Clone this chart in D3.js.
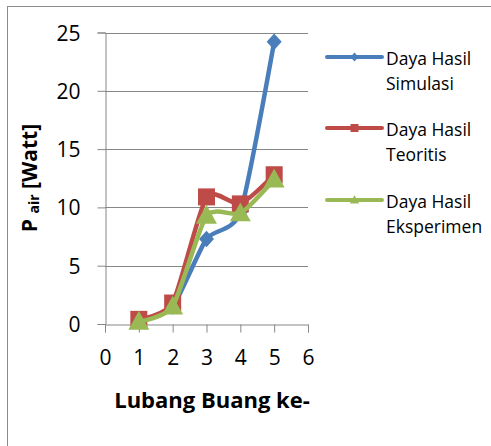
<!DOCTYPE html>
<html><head><meta charset="utf-8">
<script src="https://cdn.jsdelivr.net/npm/d3@7"></script>
<style>body{margin:0;background:#fff;} text{font-family:"Open Sans",sans-serif;}</style>
</head><body>
<svg id="c" width="491" height="446"></svg>
<script>
const xValues = [1, 2, 3, 4, 5];
const simulasi = [0.3, 1.5, 7.3, 9.6, 24.2];
const teoritis = [0.4, 1.8, 10.9, 10.3, 12.8];
const eksperimen = [0.2, 1.5, 9.3, 9.5, 12.4];
const seriesNames = ["Daya Hasil Simulasi", "Daya Hasil Teoritis", "Daya Hasil Eksperimen"];
const xTicks = [0, 1, 2, 3, 4, 5, 6];
const yTicks = [0, 5, 10, 15, 20, 25];

const svg = d3.select("#c");
svg.append("rect").attr("x", 7.5).attr("y", 6.5).attr("width", 490).attr("height", 450)
  .attr("fill", "#fff").attr("stroke", "#8c8c8c").attr("stroke-width", 1);

const x = d3.scaleLinear().domain([0, 6]).range([105, 308]);
const y = d3.scaleLinear().domain([0, 25]).range([324, 32.5]);
const grid = "#878787";

// gridlines
svg.append("g").selectAll("line").data(yTicks.filter(d => d > 0)).join("line")
  .attr("x1", x(0)).attr("x2", x(6)).attr("y1", d => Math.round(y(d)) + 0.5).attr("y2", d => Math.round(y(d)) + 0.5)
  .attr("stroke", grid).attr("stroke-width", 1);

// axes
const yAxis = svg.append("g").attr("transform", `translate(${x(0) + 0.5},0)`)
  .call(d3.axisLeft(y).tickValues(yTicks).tickSize(8).tickPadding(17).tickFormat(d3.format("d")));
const xAxis = svg.append("g").attr("transform", `translate(0,${Math.round(y(0)) + 0.5})`)
  .call(d3.axisBottom(x).tickValues(xTicks).tickSize(8).tickPadding(18).tickFormat(d3.format("d")));
[yAxis, xAxis].forEach(a => {
  a.select(".domain").attr("stroke", grid);
  a.selectAll(".tick line").attr("stroke", grid);
  a.selectAll(".tick text").attr("font-size", 21).attr("fill", "#000").attr("font-family", "Open Sans");
});
yAxis.selectAll(".tick text").attr("dy", "0.36em");

// series
const series = [
  { name: seriesNames[0], values: simulasi, color: "#4A7EBB", shape: "diamond" },
  { name: seriesNames[1], values: teoritis, color: "#BE4B48", shape: "square" },
  { name: seriesNames[2], values: eksperimen, color: "#98B954", shape: "triangle" }
];
const line = d3.line().x((d, i) => x(xValues[i])).y(d => y(d)).curve(d3.curveCardinal.tension(0.4));
function marker(g, shape, cx, cy, s, color) {
  if (shape === "diamond") {
    g.append("path").attr("d", `M${cx},${cy - s * 0.55}L${cx + s * 0.5},${cy}L${cx},${cy + s * 0.55}L${cx - s * 0.5},${cy}Z`).attr("fill", color);
  } else if (shape === "square") {
    g.append("rect").attr("x", cx - s / 2).attr("y", cy - s / 2).attr("width", s).attr("height", s).attr("fill", color);
  } else {
    g.append("path").attr("d", `M${cx},${cy - s * 0.6}L${cx + s * 0.58},${cy + s * 0.45}L${cx - s * 0.58},${cy + s * 0.45}Z`).attr("fill", color);
  }
}
const plot = svg.append("g");
series.forEach(s => {
  const g = plot.append("g");
  g.append("path").attr("d", line(s.values)).attr("fill", "none").attr("stroke", s.color)
    .attr("stroke-width", 4.5).attr("stroke-linejoin", "round").attr("stroke-linecap", "round");
  const size = s.shape === "diamond" ? 15 : (s.shape === "square" ? 17 : 18);
  s.values.forEach((v, i) => marker(g, s.shape, x(xValues[i]), y(v), size, s.color));
});

// axis titles
svg.append("text").attr("x", 212).attr("y", 408).attr("text-anchor", "middle")
  .attr("font-size", 22).attr("font-weight", "bold").text("Lubang Buang ke-");
const yt = svg.append("text").attr("transform", "translate(37,178) rotate(-90)").attr("text-anchor", "middle")
  .attr("font-size", 21).attr("font-weight", "bold");
yt.append("tspan").text("P ");
yt.append("tspan").attr("font-size", 14).attr("dy", 2).text("air");
yt.append("tspan").attr("dy", -2).text(" [Watt]");

// legend
const leg = svg.append("g");
const legY = [57, 128, 200];
series.forEach((s, i) => {
  const g = leg.append("g");
  g.append("line").attr("x1", 327).attr("x2", 382).attr("y1", legY[i]).attr("y2", legY[i])
    .attr("stroke", s.color).attr("stroke-width", 4).attr("stroke-linecap", "round");
  marker(g, s.shape, 354.5, legY[i], 8, s.color);
  const words = s.name.split(" ");
  const t = g.append("text").attr("x", 386).attr("y", legY[i] + 8).attr("font-size", 17.5);
  t.append("tspan").attr("x", 386).text(words.slice(0, 2).join(" "));
  t.append("tspan").attr("x", 386).attr("dy", 25).text(words.slice(2).join(" "));
});
</script>
</body></html>
